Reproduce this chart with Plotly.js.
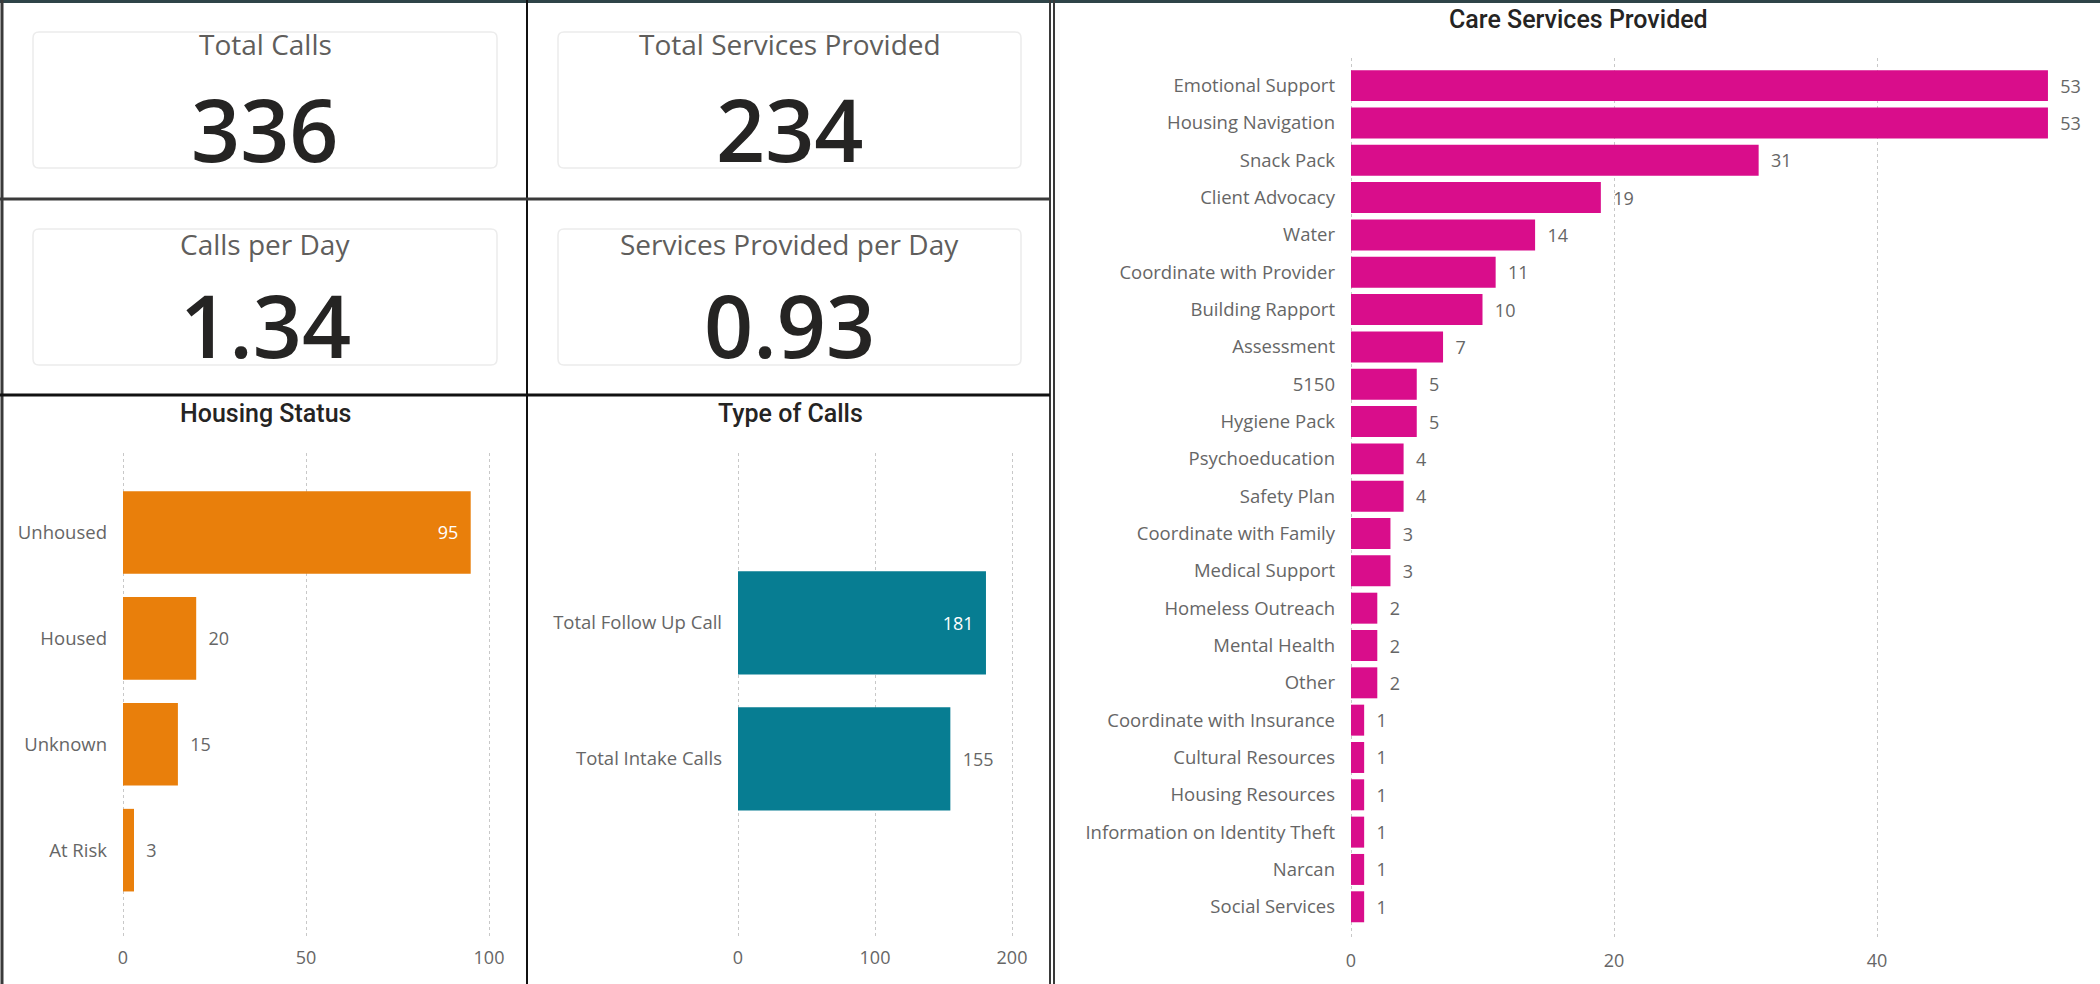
<!DOCTYPE html>
<html>
<head>
<meta charset="utf-8">
<script src="https://cdn.plot.ly/plotly-3.0.1.min.js"></script>
<style>
  html, body { margin: 0; padding: 0; background: #ffffff; }
  #chart { width: 2100px; height: 984px; }
</style>
</head>
<body>
<div id="chart"></div>
<script>
// ---------- data ----------
const kpiTitles = ['Total Calls', 'Total Services Provided', 'Calls per Day', 'Services Provided per Day'];
const kpiValues = ['336', '234', '1.34', '0.93'];

const housingCats = ['Unhoused', 'Housed', 'Unknown', 'At Risk'];
const housingVals = [95, 20, 15, 3];

const callCats = ['Total Follow Up Call', 'Total Intake Calls'];
const callVals = [181, 155];

const careCats = ['Emotional Support', 'Housing Navigation', 'Snack Pack', 'Client Advocacy', 'Water',
  'Coordinate with Provider', 'Building Rapport', 'Assessment', '5150', 'Hygiene Pack',
  'Psychoeducation', 'Safety Plan', 'Coordinate with Family', 'Medical Support', 'Homeless Outreach',
  'Mental Health', 'Other', 'Coordinate with Insurance', 'Cultural Resources', 'Housing Resources',
  'Information on Identity Theft', 'Narcan', 'Social Services'];
const careVals = [53, 53, 31, 19, 14, 11, 10, 7, 5, 5, 4, 4, 3, 3, 2, 2, 2, 1, 1, 1, 1, 1, 1];

// ---------- helpers ----------
const W = 2100, H = 984;
const px = x => x / W;
const py = y => 1 - y / H;

const LABEL_FONT = '"Open Sans", "Noto Sans", sans-serif';
const TITLE_FONT = 'Roboto, "Open Sans", sans-serif';
const GRID = '#c8c8c8';
const TICK_COLOR = '#666666';
const SP = '\u00a0\u00a0';

function barTrace(cats, vals, color, xa, ya, width, insideMax) {
  const mx = Math.max(...vals);
  const inside = vals.map(v => insideMax && v === mx);
  return {
    type: 'bar', orientation: 'h',
    y: cats, x: vals,
    xaxis: xa, yaxis: ya,
    width: width,
    marker: { color: color, line: { width: 0 } },
    text: vals.map((v, i) => inside[i] ? String(v) + SP : SP + String(v)),
    textposition: inside.map(f => f ? 'inside' : 'outside'),
    insidetextanchor: 'end',
    textfont: { family: LABEL_FONT, size: 18, color: TICK_COLOR },
    insidetextfont: { family: LABEL_FONT, size: 18, color: '#ffffff' },
    outsidetextfont: { family: LABEL_FONT, size: 18, color: TICK_COLOR },
    cliponaxis: false,
    hoverinfo: 'skip',
    showlegend: false
  };
}

const traces = [
  barTrace(housingCats, housingVals, '#E97F0B', 'x', 'y', 0.78, true),
  barTrace(callCats, callVals, '#077D92', 'x2', 'y2', 0.76, true),
  barTrace(careCats, careVals, '#D90D8B', 'x3', 'y3', 0.83, false)
];

function xAxis(domain, range, dtick, anchor) {
  return {
    domain: domain, range: range, anchor: anchor,
    dtick: dtick, tick0: 0,
    showgrid: true, gridcolor: GRID, griddash: 'dot', gridwidth: 1,
    zeroline: false, showline: false, ticks: '',
    ticklabelstandoff: 8,
    tickfont: { family: LABEL_FONT, size: 18, color: TICK_COLOR },
    fixedrange: true
  };
}
function yAxis(domain, cats, range, anchor) {
  return {
    domain: domain, anchor: anchor,
    type: 'category', categoryorder: 'array', categoryarray: cats,
    range: range,
    showgrid: false, zeroline: false, showline: false, ticks: '',
    ticklabelstandoff: 12,
    tickfont: { family: LABEL_FONT, size: 18.5, color: TICK_COLOR },
    fixedrange: true
  };
}

// plot areas: x=0 pixel stays fixed; a 3px margin left of zero keeps the zero gridline visible
const layout = {
  width: W, height: H,
  margin: { l: 0, r: 0, t: 0, b: 0 },
  paper_bgcolor: '#ffffff', plot_bgcolor: 'rgba(0,0,0,0)',
  showlegend: false,
  hovermode: false,
  xaxis: xAxis([px(120), px(505)], [-3 / 3.66, 382 / 3.66], 50, 'y'),
  yaxis: yAxis([py(937), py(453)], housingCats, [3.82, -0.75], 'x'),
  xaxis2: xAxis([px(735), px(1035)], [-3 / 1.37, 297 / 1.37], 100, 'y2'),
  yaxis2: yAxis([py(937), py(453)], callCats, [2.31, -1.25], 'x2'),
  xaxis3: xAxis([px(1348), px(2075)], [-3 / 13.15, 724 / 13.15], 20, 'y3'),
  yaxis3: yAxis([py(940), py(58)], careCats, [22.89, -0.74], 'x3'),
  shapes: [],
  annotations: []
};

// panel borders
const dark = '#3a3a3a';
layout.shapes.push(
  { type: 'line', xref: 'paper', yref: 'paper', x0: 0, x1: 1, y0: py(1.5), y1: py(1.5), line: { color: '#2f4448', width: 3 } },
  { type: 'line', xref: 'paper', yref: 'paper', x0: px(2), x1: px(2), y0: 0, y1: 1, line: { color: dark, width: 3 } },
  { type: 'line', xref: 'paper', yref: 'paper', x0: px(527), x1: px(527), y0: 0, y1: 1, line: { color: '#111111', width: 2 } },
  { type: 'line', xref: 'paper', yref: 'paper', x0: px(1050), x1: px(1050), y0: 0, y1: 1, line: { color: dark, width: 2 } },
  { type: 'line', xref: 'paper', yref: 'paper', x0: px(1054), x1: px(1054), y0: 0, y1: 1, line: { color: dark, width: 2 } },
  { type: 'line', xref: 'paper', yref: 'paper', x0: 0, x1: px(1050), y0: py(199), y1: py(199), line: { color: dark, width: 3 } },
  { type: 'line', xref: 'paper', yref: 'paper', x0: 0, x1: px(1050), y0: py(395), y1: py(395), line: { color: '#111111', width: 3 } }
);

// rounded card outline path (pixel coords -> paper coords)
function roundRect(x0, y0, x1, y1, r) {
  const X = v => px(v), Y = v => py(v);
  return `M ${X(x0 + r)} ${Y(y0)} L ${X(x1 - r)} ${Y(y0)} Q ${X(x1)} ${Y(y0)} ${X(x1)} ${Y(y0 + r)} ` +
    `L ${X(x1)} ${Y(y1 - r)} Q ${X(x1)} ${Y(y1)} ${X(x1 - r)} ${Y(y1)} ` +
    `L ${X(x0 + r)} ${Y(y1)} Q ${X(x0)} ${Y(y1)} ${X(x0)} ${Y(y1 - r)} ` +
    `L ${X(x0)} ${Y(y0 + r)} Q ${X(x0)} ${Y(y0)} ${X(x0 + r)} ${Y(y0)} Z`;
}

// KPI cards
const cardX = [[33, 497], [558, 1021]];
const cardY = [[32, 168], [229, 365]];
const titleY = [44, 244];
const valueY = [128, 324];
kpiTitles.forEach((t, i) => {
  const col = i % 2, row = Math.floor(i / 2);
  const [x0, x1] = cardX[col];
  const [y0, y1] = cardY[row];
  layout.shapes.push({
    type: 'path', xref: 'paper', yref: 'paper',
    path: roundRect(x0, y0, x1, y1, 6),
    line: { color: '#ececec', width: 1.5 }, fillcolor: 'rgba(0,0,0,0)'
  });
  const cx = px((x0 + x1) / 2);
  layout.annotations.push({
    xref: 'paper', yref: 'paper', x: cx, y: py(titleY[row]),
    xanchor: 'center', yanchor: 'middle', showarrow: false,
    text: t, font: { family: LABEL_FONT, size: 28, color: '#605E5C' }
  });
  layout.annotations.push({
    xref: 'paper', yref: 'paper', x: cx, y: py(valueY[row]),
    xanchor: 'center', yanchor: 'middle', showarrow: false,
    text: kpiValues[i], font: { family: LABEL_FONT, size: 86, color: '#252423', weight: 600 }
  });
});

// chart titles
const chartTitles = [
  { text: 'Housing Status', x: 265, y: 414 },
  { text: 'Type of Calls', x: 790, y: 414 },
  { text: 'Care Services Provided', x: 1578, y: 20 }
];
chartTitles.forEach(c => layout.annotations.push({
  xref: 'paper', yref: 'paper', x: px(c.x), y: py(c.y),
  xanchor: 'center', yanchor: 'middle', showarrow: false,
  text: c.text, font: { family: TITLE_FONT, size: 25, color: '#252423', weight: 500 }
}));

Plotly.newPlot('chart', traces, layout, { staticPlot: true, displayModeBar: false });
</script>
</body>
</html>
